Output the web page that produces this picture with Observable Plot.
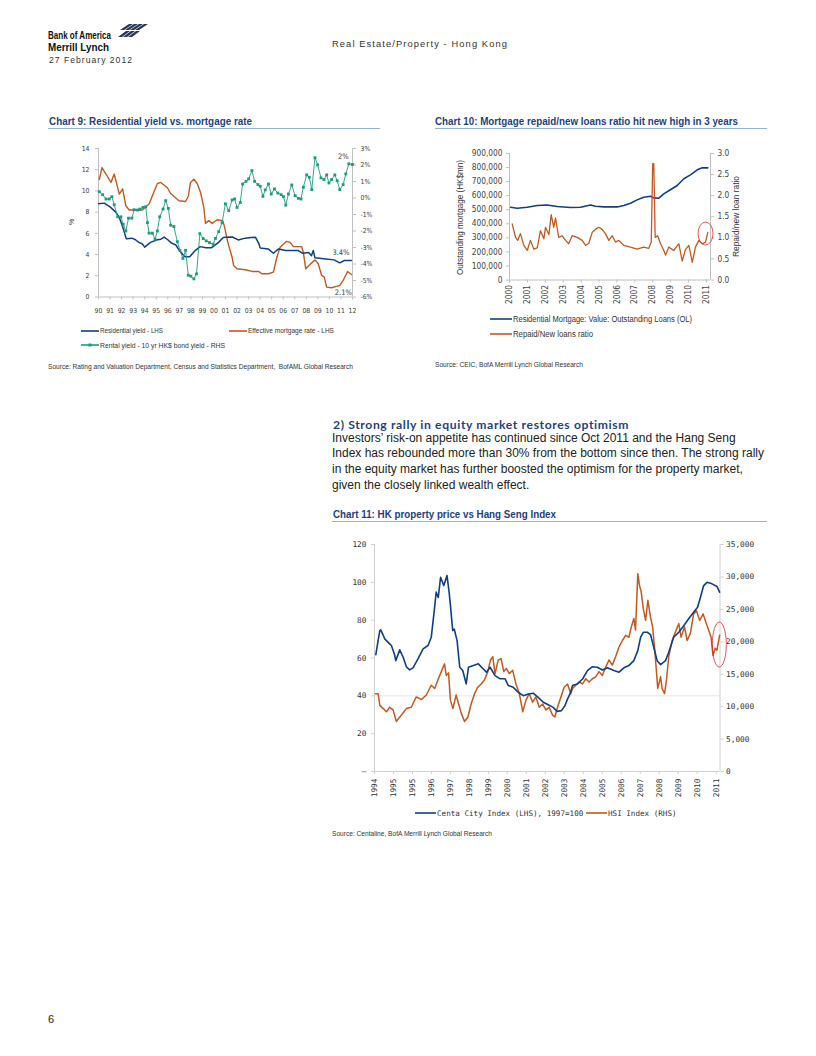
<!DOCTYPE html>
<html><head><meta charset="utf-8">
<script src="https://cdn.jsdelivr.net/npm/d3@7"></script>
<script src="https://cdn.jsdelivr.net/npm/@observablehq/plot@0.6"></script>
<style>
body{margin:0;background:#fff;}
#page{position:relative;width:816px;height:1056px;background:#fff;overflow:hidden;font-family:'Liberation Sans',Arial,sans-serif;}
.abs{position:absolute;white-space:nowrap;line-height:1;transform-origin:0 50%;}
.ctitle{font-family:'Liberation Sans',Arial,sans-serif;font-weight:bold;font-size:11.5px;color:#1f3f80;}
.uline{position:absolute;height:0;border-top:1px solid #95b3d7;}
.src{font-family:'Liberation Sans',Arial,sans-serif;font-size:7px;color:#333;}
.plotbox{position:absolute;}
.plotbox svg{overflow:visible;}
</style></head>
<body><div id="page">
<div class="abs fit" data-w="63" style="left:48px;top:29.5px;font-size:10.5px;font-weight:bold;color:#111;">Bank of America</div>
<svg class="abs" style="left:115px;top:24px" width="34" height="15" viewBox="0 0 34 15">
<g fill="#2a3559">
<polygon points="14,0 18,0 9,6 5,6"/>
<polygon points="19,0 23,0 14,6 10,6"/>
<polygon points="24,0 28,0 19,6 15,6"/>
<polygon points="29,0 33,0 24,6 20,6"/>
<polygon points="11,7 15,7 7,13 3,13"/>
<polygon points="16,7 20,7 12,13 8,13"/>
<polygon points="21,7 25,7 17,13 13,13"/>
</g>
</svg>
<div class="abs fit" data-w="61" style="left:48px;top:41.5px;font-size:10.5px;font-weight:bold;color:#111;">Merrill Lynch</div>
<div class="abs fit" data-w="84" style="left:49px;top:56px;font-size:8.5px;letter-spacing:1px;color:#333;">27 February 2012</div>
<div class="abs fit" data-w="176" style="left:331.5px;top:40.3px;font-size:8.5px;letter-spacing:1px;color:#333;">Real Estate/Property - Hong Kong</div>

<div class="abs ctitle fit" data-w="203" style="left:49px;top:115.5px;">Chart 9: Residential yield vs. mortgage rate</div>
<div class="uline" style="left:48px;top:128px;width:332px;"></div>
<div class="abs ctitle fit" data-w="303" style="left:435px;top:115.5px;">Chart 10: Mortgage repaid/new loans ratio hit new high in 3 years</div>
<div class="uline" style="left:435px;top:128px;width:332px;"></div>

<div id="c9" class="plotbox" style="left:40px;top:140px;"></div>
<div class="abs src fit" data-w="305" style="left:48px;top:362.5px;">Source: Rating and Valuation Department, Census and Statistics Department,&nbsp; BofAML Global Research</div>

<div id="c10" class="plotbox" style="left:440px;top:140px;"></div>
<div class="abs src fit" data-w="148" style="left:435px;top:360.5px;">Source: CEIC, BofA Merrill Lynch Global Research</div>

<div class="abs fit" data-w="296" style="left:332.5px;top:418.5px;font-family:Lato,'Liberation Sans',sans-serif;font-weight:bold;font-size:12px;letter-spacing:0.6px;color:#1f3f7f;">2) Strong rally in equity market restores optimism</div>
<div class="abs" style="left:332px;top:430.5px;font-size:12px;line-height:15.8px;color:#222;">Investors’ risk-on appetite has continued since Oct 2011 and the Hang Seng<br>Index has rebounded more than 30% from the bottom since then. The strong rally<br>in the equity market has further boosted the optimism for the property market,<br>given the closely linked wealth effect.</div>

<div class="abs ctitle fit" data-w="223" style="left:332.5px;top:508.5px;">Chart 11: HK property price vs Hang Seng Index</div>
<div class="uline" style="left:332px;top:521px;width:435px;"></div>
<div id="c11" class="plotbox" style="left:325px;top:535px;"></div>
<div class="abs src fit" data-w="160" style="left:332px;top:829.5px;">Source: Centaline, BofA Merrill Lynch Global Research</div>

<div class="abs" style="left:48px;top:1014px;font-size:11px;color:#222;">6</div>

<svg class="abs" style="left:0;top:0;pointer-events:none" width="816" height="1056">
  <text transform="translate(72,222) rotate(-90)" text-anchor="middle" dominant-baseline="middle" font-family="Liberation Sans, Arial, sans-serif" font-size="7" fill="#404040">%</text>
  <text transform="translate(461,217.5) rotate(-90)" text-anchor="middle" dominant-baseline="middle" font-family="Liberation Sans, Arial, sans-serif" font-size="9" fill="#333" textLength="115" lengthAdjust="spacingAndGlyphs">Outstanding mortgage (HK$mn)</text>
  <text transform="translate(737,216.5) rotate(-90)" text-anchor="middle" dominant-baseline="middle" font-family="Liberation Sans, Arial, sans-serif" font-size="9" fill="#333" textLength="81" lengthAdjust="spacingAndGlyphs">Repaid/new loan ratio</text>
</svg>
</div>
<script>
// ---------- colours ----------
const navy = "#103f86", orange = "#c5581d", green = "#1c9c7d", axisGray = "#c0c0c0";

// ---------- Chart 9 data ----------
const xTickYears9 = [1990,1991,1992,1993,1994,1995,1996,1997,1998,1999,2000,2001,2002,2003,2004,2005,2006,2007,2008,2009,2010,2011,2012];
const xLabels9 = ["90","91","92","93","94","95","96","97","98","99","00","01","02","03","04","05","06","07","08","09","10","11","12"];
const yTicks9 = [0,2,4,6,8,10,12,14];
const rightTicks9 = [-6,-5,-4,-3,-2,-1,0,1,2,3];
const rightLabels9 = ["-6%","-5%","-4%","-3%","-2%","-1%","0%","1%","2%","3%"];
const resYield9 = [[1990.0,8.8],[1990.5,8.85],[1991.0,8.5],[1991.5,8.0],[1991.8,7.5],[1992.1,6.6],[1992.4,5.5],[1992.9,5.55],[1993.2,5.4],[1993.5,5.15],[1993.8,5.0],[1994.0,4.7],[1994.5,5.15],[1995.1,5.4],[1995.4,5.45],[1995.7,5.65],[1996.0,5.4],[1996.3,5.1],[1996.7,4.9],[1997.0,4.4],[1997.3,4.0],[1997.5,3.8],[1997.9,3.8],[1998.4,4.4],[1998.8,4.75],[1999.3,4.65],[1999.8,4.65],[2000.4,5.15],[2000.8,5.6],[2001.0,5.63],[2001.6,5.66],[2002.1,5.38],[2002.7,5.55],[2003.2,5.6],[2003.6,5.63],[2003.9,5.0],[2004.0,4.63],[2004.7,4.53],[2005.15,4.12],[2005.6,4.53],[2006.2,4.38],[2007.3,4.38],[2007.7,4.12],[2008.2,4.2],[2008.45,3.9],[2008.6,4.38],[2008.75,3.69],[2009.5,3.6],[2010.4,3.5],[2010.9,3.22],[2011.3,3.44],[2011.9,3.44]];
const mortgage9 = [[1990.07,11.1],[1990.3,12.2],[1990.7,11.5],[1991.08,10.8],[1991.36,11.6],[1991.8,9.7],[1992.09,10.2],[1992.37,8.6],[1992.66,8.2],[1993.8,8.2],[1994.38,8.76],[1995.1,10.7],[1995.39,10.8],[1995.97,10.3],[1996.25,9.76],[1996.97,9.07],[1997.54,9.0],[1997.78,9.5],[1997.97,10.8],[1998.26,11.1],[1998.55,10.7],[1998.84,9.85],[1999.12,8.44],[1999.27,6.94],[1999.55,7.2],[1999.84,6.94],[2000.28,7.28],[2000.76,7.2],[2000.93,6.56],[2001.2,5.15],[2001.57,3.75],[2001.7,2.97],[2002.0,2.66],[2002.7,2.57],[2003.3,2.41],[2003.86,2.41],[2004.15,2.19],[2004.72,2.19],[2005.15,2.35],[2005.45,3.75],[2005.73,4.69],[2006.3,5.25],[2006.6,5.15],[2006.88,4.75],[2007.6,4.75],[2007.74,4.2],[2007.95,2.66],[2008.23,2.97],[2008.75,3.5],[2009.03,3.13],[2009.33,2.03],[2009.55,1.88],[2009.76,0.93],[2010.19,0.87],[2010.62,1.0],[2010.9,1.09],[2011.19,1.56],[2011.57,2.4],[2011.91,2.12]];
const rental9 = [[1990.07,0.38],[1990.36,0.2],[1990.65,-0.06],[1990.93,-0.06],[1991.16,0.08],[1991.36,-0.41],[1991.66,-1.14],[1991.94,-1.14],[1992.14,-1.59],[1992.37,-2.0],[1992.6,-1.22],[1992.89,-1.22],[1993.09,-0.71],[1993.38,-0.73],[1993.58,-0.67],[1993.86,-0.57],[1994.09,-0.53],[1994.24,-1.49],[1994.38,-2.13],[1994.67,-2.13],[1994.9,-2.5],[1995.1,-2.0],[1995.3,-1.14],[1995.59,-0.67],[1995.82,-0.16],[1996.05,-0.63],[1996.25,-1.65],[1996.53,-1.73],[1996.83,-2.65],[1997.05,-3.17],[1997.31,-3.66],[1997.54,-3.17],[1997.78,-4.68],[1998.0,-4.74],[1998.26,-4.9],[1998.49,-4.6],[1998.78,-2.16],[1999.07,-2.46],[1999.33,-2.6],[1999.61,-2.7],[1999.93,-2.8],[2000.13,-2.45],[2000.41,-2.04],[2000.7,-1.5],[2000.99,-0.35],[2001.28,-0.77],[2001.57,-0.12],[2001.79,-0.06],[2002.0,-0.57],[2002.28,-0.27],[2002.48,0.85],[2002.78,1.01],[2003.0,1.16],[2003.29,1.66],[2003.52,1.01],[2003.81,0.81],[2004.01,0.71],[2004.24,0.1],[2004.44,0.49],[2004.72,0.85],[2004.96,0.24],[2005.24,0.55],[2005.53,0.3],[2005.82,0.2],[2006.02,0.08],[2006.22,-0.43],[2006.45,0.24],[2006.74,0.79],[2007.03,0.14],[2007.31,-0.02],[2007.54,-0.06],[2007.74,0.65],[2008.03,1.4],[2008.26,1.26],[2008.47,0.51],[2008.75,2.44],[2008.98,2.01],[2009.27,1.22],[2009.53,1.12],[2009.76,1.4],[2009.96,0.91],[2010.19,1.12],[2010.47,1.4],[2010.67,1.05],[2010.9,0.51],[2011.19,0.81],[2011.42,1.46],[2011.68,2.07],[2012.0,2.03]];
const notes9 = [{x:2011.2,y:13.25,text:"2%"},{x:2011.0,y:4.2,text:"3.4%"},{x:2011.2,y:0.42,text:"2.1%"}];

// ---------- Chart 10 data ----------
const years10 = [2000,2001,2002,2003,2004,2005,2006,2007,2008,2009,2010,2011];
const leftTicks10 = [0,100000,200000,300000,400000,500000,600000,700000,800000,900000];
const ratioTicks10 = [0,0.5,1.0,1.5,2.0,2.5,3.0];
const loans10 = [[2000.06,518000],[2000.43,511000],[2000.99,518000],[2001.55,530000],[2002.1,534000],[2002.66,523000],[2003.41,516000],[2003.97,518000],[2004.53,534000],[2004.8,525000],[2005.27,520000],[2006.02,520000],[2006.39,530000],[2006.76,546000],[2007.13,570000],[2007.5,589000],[2007.88,596000],[2008.06,584000],[2008.34,582000],[2008.62,613000],[2008.99,642000],[2009.37,672000],[2009.74,720000],[2010.11,748000],[2010.49,784000],[2010.77,798000],[2011.08,798000]];
const ratio10 = [[2000.15,1.33],[2000.34,1.01],[2000.46,0.94],[2000.61,1.1],[2000.8,0.82],[2000.99,0.70],[2001.17,0.94],[2001.36,0.73],[2001.55,0.76],[2001.73,1.17],[2001.92,0.98],[2002.01,1.25],[2002.2,1.08],[2002.33,1.55],[2002.47,1.25],[2002.57,1.47],[2002.75,1.01],[2002.94,1.05],[2003.13,0.94],[2003.31,0.86],[2003.5,1.05],[2003.78,1.01],[2004.06,0.94],[2004.25,0.82],[2004.43,0.87],[2004.62,1.13],[2004.8,1.2],[2004.99,1.25],[2005.18,1.2],[2005.36,1.1],[2005.55,0.94],[2005.74,1.05],[2005.92,0.9],[2006.11,0.94],[2006.39,0.82],[2006.76,0.78],[2007.13,0.73],[2007.5,0.78],[2007.78,0.75],[2007.92,0.9],[2008.0,2.76],[2008.06,2.76],[2008.14,1.01],[2008.28,1.05],[2008.44,0.86],[2008.62,0.70],[2008.72,0.59],[2008.9,0.78],[2009.18,0.70],[2009.46,0.86],[2009.65,0.45],[2009.83,0.72],[2010.02,0.82],[2010.21,0.42],[2010.39,0.78],[2010.58,0.94],[2010.77,0.86],[2010.95,0.9],[2011.08,1.13]];
const highlight10 = {year: 2010.98, ratio: 1.09};

// ---------- Chart 11 data ----------
const xTickYears11 = [1994,1995,1996,1997,1998,1999,2000,2001,2002,2003,2004,2005,2006,2007,2008,2009,2010,2011,2012];
const xLabels11 = ["1994","1995","1995","1996","1997","1998","1999","2000","2001","2002","2003","2004","2005","2006","2007","2008","2009","2010","2011"];
const leftTicks11 = [0,20,40,60,80,100,120];
const leftLabels11 = ["–","20","40","60","80","100","120"];
const rightTicks11 = [0,5000,10000,15000,20000,25000,30000,35000];
const centa11 = [[1994.07,61.8],[1994.19,69.2],[1994.28,74.5],[1994.33,74.9],[1994.46,72],[1994.54,70.1],[1994.63,69.2],[1994.8,67.5],[1994.89,66.6],[1995.05,62],[1995.12,58.6],[1995.33,64.3],[1995.51,60.4],[1995.68,55.4],[1995.85,53.7],[1996.03,54.8],[1996.29,59.5],[1996.56,64.8],[1996.82,66.6],[1996.99,71],[1997.13,83.3],[1997.25,94.8],[1997.36,92],[1997.48,102.7],[1997.65,98.3],[1997.82,103.6],[1997.93,94.8],[1998.01,86.8],[1998.12,74.5],[1998.2,75.3],[1998.35,69.2],[1998.49,55.1],[1998.65,53.4],[1998.83,46.3],[1998.95,55.1],[1999.21,56],[1999.47,56.9],[1999.73,54.2],[1999.9,52.5],[2000.09,55.1],[2000.35,50.7],[2000.62,49],[2000.88,49],[2001.05,45.4],[2001.31,44.5],[2001.57,41.9],[2001.84,40.1],[2002.1,41],[2002.36,41.4],[2002.62,39.2],[2002.89,36.6],[2003.15,35.3],[2003.41,33.9],[2003.62,31.8],[2003.85,32.2],[2004.03,34.8],[2004.17,38.4],[2004.3,41],[2004.43,45.4],[2004.69,46.3],[2004.96,48.9],[2005.22,53.3],[2005.48,55.4],[2005.74,55.1],[2006.01,53.7],[2006.27,54.8],[2006.61,53.4],[2006.88,52.5],[2007.14,54.8],[2007.4,56],[2007.66,58.6],[2007.87,63.9],[2008.02,71],[2008.16,73.6],[2008.37,73.6],[2008.54,72.4],[2008.71,65.7],[2008.89,58.6],[2009.07,56.5],[2009.33,58.6],[2009.5,63],[2009.76,71],[2010.03,73.6],[2010.29,77.1],[2010.55,80.7],[2010.81,84.2],[2011.02,86.8],[2011.17,92.1],[2011.34,98.3],[2011.52,100],[2011.78,99.2],[2012.04,97.8],[2012.18,94.8]];
const hsi11 = [[1994.05,12000],[1994.19,12000],[1994.28,10200],[1994.46,9700],[1994.63,9200],[1994.8,9900],[1994.98,9500],[1995.15,7700],[1995.3,8300],[1995.42,8700],[1995.68,9700],[1995.94,9900],[1996.2,11500],[1996.47,11100],[1996.73,11800],[1996.99,13300],[1997.17,12800],[1997.34,14100],[1997.52,15400],[1997.69,16600],[1997.78,14800],[1997.9,15200],[1998.0,11000],[1998.13,9700],[1998.3,11800],[1998.43,10400],[1998.57,9000],[1998.74,7700],[1998.92,8400],[1999.09,10400],[1999.27,12000],[1999.44,13000],[1999.62,13500],[1999.79,14100],[1999.97,15400],[2000.11,17200],[2000.23,17700],[2000.35,15100],[2000.52,17200],[2000.67,17400],[2000.81,15400],[2000.94,15900],[2001.1,15100],[2001.28,15600],[2001.45,13500],[2001.63,12000],[2001.81,9200],[2001.98,11000],[2002.15,12000],[2002.33,10700],[2002.5,11500],[2002.68,9900],[2002.86,10400],[2003.03,9500],[2003.2,9900],[2003.38,8700],[2003.5,8400],[2003.64,9900],[2003.82,11500],[2003.99,13000],[2004.17,13500],[2004.34,12000],[2004.43,12800],[2004.6,13300],[2004.78,13800],[2004.96,13500],[2005.13,14300],[2005.3,13800],[2005.48,14300],[2005.65,14600],[2005.83,15400],[2006.0,14800],[2006.18,16100],[2006.35,17200],[2006.53,16400],[2006.7,17700],[2006.88,19200],[2007.06,20200],[2007.23,21000],[2007.4,20700],[2007.53,22300],[2007.66,23600],[2007.75,21800],[2007.87,30500],[2007.96,28700],[2008.05,27700],[2008.16,25100],[2008.28,23300],[2008.4,26400],[2008.54,23800],[2008.65,22300],[2008.75,19200],[2008.86,15100],[2008.92,12800],[2009.07,14600],[2009.15,12800],[2009.28,12000],[2009.38,14100],[2009.5,17700],[2009.68,20200],[2009.85,21500],[2010.03,22800],[2010.15,20700],[2010.33,22300],[2010.47,20200],[2010.64,21300],[2010.81,24300],[2010.96,24800],[2011.13,23300],[2011.31,24300],[2011.48,22800],[2011.6,21800],[2011.73,20700],[2011.83,17900],[2011.95,19000],[2012.04,18700],[2012.18,21000]];
const highlight11 = {year: 2012.19, hsi: 19500};

// ---------- helpers ----------
const narrowFont = "'Liberation Sans Narrow','DejaVu Sans Condensed',sans-serif";
const X = d => d[0], Y = d => d[1];

// ---------- Chart 9 ----------
const toLeft9 = r => (r + 6) * 14 / 9;
const c9 = Plot.plot({
  width: 340, height: 185, marginLeft: 58, marginRight: 28, marginTop: 8, marginBottom: 28.5,
  style: {fontFamily: narrowFont, fontSize: "6.8px", color: "#404040", background: "transparent", overflow: "visible"},
  x: {domain: [1990, 2012]},
  y: {domain: [0, 14]},
  marks: [
    Plot.ruleY([0], {stroke: axisGray}),
    Plot.ruleX([1990, 2012], {stroke: axisGray}),
    Plot.axisX(xTickYears9, {tickFormat: d => xLabels9[xTickYears9.indexOf(d)], tickSize: 3, tickPadding: 8, stroke: axisGray, label: null}),
    Plot.axisY(yTicks9, {tickSize: 3, tickPadding: 6, stroke: axisGray, label: null}),
    Plot.axisY(rightTicks9.map(toLeft9), {anchor: "right", tickFormat: d => rightLabels9[rightTicks9.indexOf(Math.round(d * 9 / 14 - 6))], tickSize: 3, tickPadding: 5, stroke: axisGray, label: null}),
    Plot.line(mortgage9, {x: X, y: Y, stroke: orange, strokeWidth: 1.4}),
    Plot.line(resYield9, {x: X, y: Y, stroke: navy, strokeWidth: 1.5}),
    Plot.line(rental9, {x: X, y: d => toLeft9(d[1]), stroke: green, strokeWidth: 0.9}),
    Plot.dot(rental9, {x: X, y: d => toLeft9(d[1]), symbol: "square", r: 1.6, fill: green, stroke: null}),
    Plot.text(notes9, {x: "x", y: "y", text: "text", fill: "#404040", fontSize: 7.5})
  ]
});
document.getElementById("c9").appendChild(c9);

// ---------- Chart 10 ----------
const c10 = Plot.plot({
  width: 330, height: 170, marginLeft: 69, marginRight: 60, marginTop: 13, marginBottom: 30.5,
  style: {fontFamily: narrowFont, fontSize: "8.3px", color: "#444", background: "transparent", overflow: "visible"},
  x: {domain: [2000, 2011.23]},
  y: {domain: [0, 900000]},
  marks: [
    Plot.ruleY([0], {stroke: axisGray}),
    Plot.ruleX([2000, 2011.23], {stroke: axisGray}),
    Plot.axisX(years10, {tickRotate: -90, tickFormat: d => String(d), tickSize: 3, tickPadding: 2, stroke: axisGray, label: null}),
    Plot.axisY(leftTicks10, {tickFormat: d3.format(","), tickSize: 3, tickPadding: 4, stroke: axisGray, label: null}),
    Plot.axisY(ratioTicks10.map(r => r * 300000), {anchor: "right", tickFormat: d => (d / 300000).toFixed(1), tickSize: 3, tickPadding: 4, stroke: axisGray, label: null}),
    Plot.line(loans10, {x: X, y: Y, stroke: navy, strokeWidth: 1.6}),
    Plot.line(ratio10, {x: X, y: d => d[1] * 300000, stroke: orange, strokeWidth: 1.3})
  ]
});
{
  const sx = c10.scale("x"), sy = c10.scale("y");
  d3.select(c10).append("ellipse")
    .attr("cx", sx.apply(highlight10.year)).attr("cy", sy.apply(highlight10.ratio * 300000))
    .attr("rx", 7.5).attr("ry", 11.5).attr("fill", "none").attr("stroke", "#e8262a").attr("stroke-width", 0.8);
}
document.getElementById("c10").appendChild(c10);

// ---------- Chart 11 ----------
const toLeft11 = v => v * 120 / 35000;
const c11 = Plot.plot({
  width: 440, height: 270, marginLeft: 49, marginRight: 45.5, marginTop: 9, marginBottom: 34,
  style: {fontFamily: "'DejaVu Sans Mono',monospace", fontSize: "7.8px", color: "#333", background: "transparent", overflow: "visible"},
  x: {domain: [1994, 2012.2]},
  y: {domain: [0, 120]},
  marks: [
    Plot.ruleY([40], {stroke: "#e6e6e6"}),
    Plot.ruleY([0], {stroke: "#d0d0d0"}),
    Plot.ruleX([1994, 2012.2], {stroke: "#d0d0d0"}),
    Plot.axisX(xTickYears11, {tickRotate: -90, tickFormat: d => xLabels11[xTickYears11.indexOf(d)], tickSize: 3, tickPadding: 4, stroke: "#d0d0d0", label: null}),
    Plot.axisY(leftTicks11, {tickFormat: d => leftLabels11[leftTicks11.indexOf(d)], tickSize: 3, tickPadding: 5, stroke: "#d0d0d0", label: null}),
    Plot.axisY(rightTicks11.map(toLeft11), {anchor: "right", tickFormat: d => d3.format(",")(Math.round(d * 35000 / 120)), tickSize: 3, tickPadding: 3, stroke: "#d0d0d0", label: null}),
    Plot.line(hsi11, {x: X, y: d => toLeft11(d[1]), stroke: orange, strokeWidth: 1.5}),
    Plot.line(centa11, {x: X, y: Y, stroke: navy, strokeWidth: 1.6})
  ]
});
{
  const sx = c11.scale("x"), sy = c11.scale("y");
  d3.select(c11).append("ellipse")
    .attr("cx", sx.apply(highlight11.year)).attr("cy", sy.apply(toLeft11(highlight11.hsi)))
    .attr("rx", 7).attr("ry", 22.5).attr("fill", "none").attr("stroke", "#e8262a").attr("stroke-width", 0.8);
}
document.getElementById("c11").appendChild(c11);

// ---------- legends ----------
function legendItem(left, top, color, label, opts) {
  const o = Object.assign({lineW: 18, font: "'Liberation Sans',Arial,sans-serif", size: 7, marker: false, color: "#333", w: null}, opts || {});
  const el = document.createElement("div");
  el.className = "abs";
  el.style.left = left + "px"; el.style.top = (top - 5) + "px";
  el.style.display = "flex"; el.style.alignItems = "center";
  el.innerHTML = `<svg width="${o.lineW}" height="10" style="flex:none"><line x1="0" x2="${o.lineW}" y1="5" y2="5" stroke="${color}" stroke-width="1.6"/>${o.marker ? `<rect x="${o.lineW/2-1.5}" y="3.5" width="3" height="3" fill="${color}"/>` : ""}</svg><span class="${o.w ? 'fit' : ''}" data-w="${o.w || ''}" style="display:inline-block;transform-origin:0 50%;font-family:${o.font};font-size:${o.size}px;color:${o.color};margin-left:1px;">${label}</span>`;
  document.getElementById("page").appendChild(el);
}
legendItem(81, 330.7, navy, "Residential yield - LHS", {w: 63});
legendItem(229, 330.7, orange, "Effective mortgage rate - LHS", {w: 86});
legendItem(81, 345, green, "Rental yield - 10 yr HK$ bond yield - RHS", {marker: true, w: 125});
legendItem(490, 319, navy, "Residential Mortgage: Value: Outstanding Loans (OL)", {lineW: 22, size: 8.5, w: 179});
legendItem(490, 334.3, orange, "Repaid/New loans ratio", {lineW: 22, size: 8.5, w: 80});
legendItem(415, 813.3, navy, "Centa City Index (LHS), 1997=100", {lineW: 21, size: 7.6, font: "'DejaVu Sans Mono',monospace"});
legendItem(586, 813.3, orange, "HSI Index (RHS)", {lineW: 21, size: 7.6, font: "'DejaVu Sans Mono',monospace"});

// ---------- fit single-line texts to their measured widths in the reference ----------
document.querySelectorAll(".fit").forEach(el => {
  const target = +el.dataset.w;
  const w = el.getBoundingClientRect().width;
  if (target && w) el.style.transform = `scaleX(${(target / w).toFixed(4)})`;
});
</script>
</body></html>
